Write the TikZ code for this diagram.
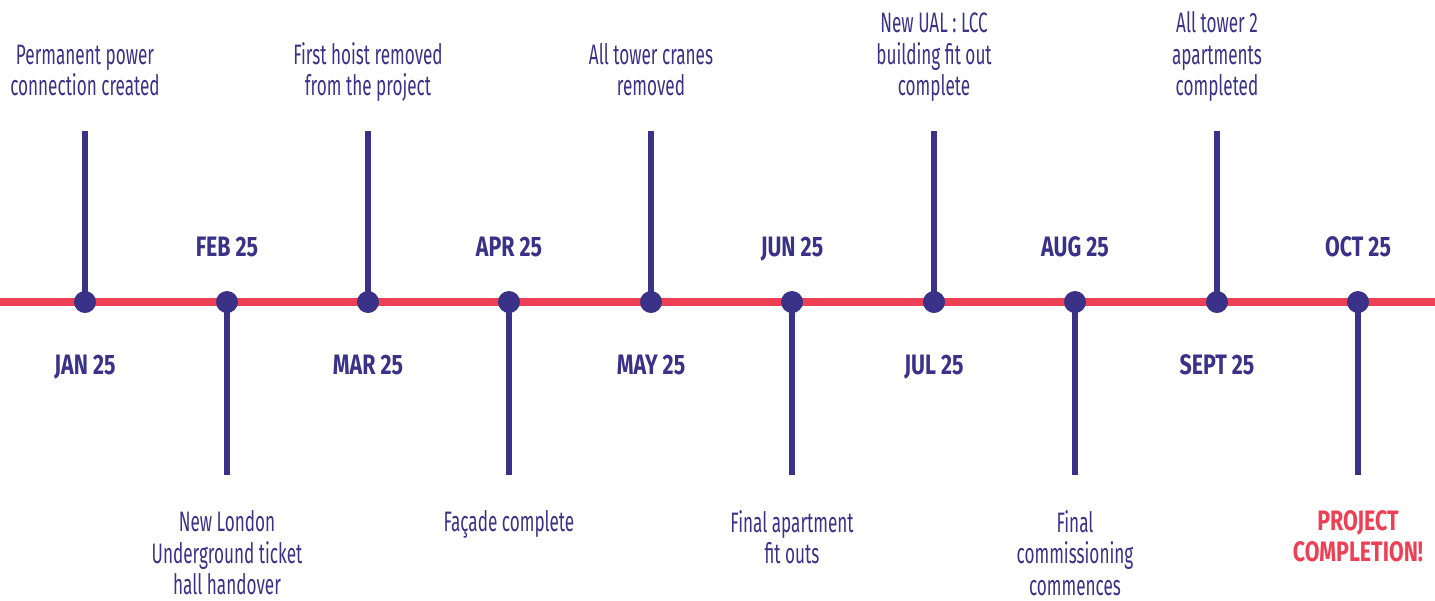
\documentclass[tikz,border=0pt]{standalone}
\usepackage{fontspec}
\setmainfont{Fira Sans}[FakeStretch=0.61, BoldFeatures={FakeStretch=0.76}]
\usetikzlibrary{positioning}
\definecolor{tlnavy}{HTML}{3A3189}
\definecolor{tlred}{HTML}{EE4055}

\begin{document}
\begin{tikzpicture}[x=0.02cm, y=-0.02cm,
	evdot/.style={circle, fill=tlnavy, inner sep=0pt, minimum size=0.44cm},
	stem/.style={draw=tlnavy, line width=3.4pt},
	track/.style={draw=tlred, line width=4.5pt},
	evtext/.style={align=center, text=tlnavy, inner sep=0pt, text depth=0pt, font=\fontsize{16}{18}\selectfont},
	endtext/.style={text=tlred, font=\bfseries\fontsize{16}{18}\selectfont},
	datetext/.style={text=tlnavy, inner sep=0pt, anchor=base, font=\bfseries\fontsize{16}{18}\selectfont}]
	\useasboundingbox (0, 0) rectangle (1435, 600);
	\coordinate (L) at (0, 302);
	\coordinate (R) at (1435, 302);
	\draw[track] (L) -- (R);
	% events above the line
	\foreach \i/\x/\dt/\txt in {1/85/JAN 25/{Permanent power\\connection created},
		3/368/MAR 25/{First hoist removed\\from the project},
		5/651/MAY 25/{All tower cranes\\removed},
		7/934/JUL 25/{New UAL : LCC\\building fit out\\complete},
		9/1217/SEPT 25/{All tower 2\\apartments\\completed}}{
		\coordinate (c\i) at (\x, 302);
		\coordinate (s\i) at (\x, 131);
		\draw[stem] (c\i) -- (s\i);
		\node[evdot] (d\i) at (c\i) {};
		\node[evtext, anchor=south] (t\i) at (\x, 96) {\txt};
		\node[datetext] (m\i) at (\x, 374) {\dt};
	}
	% events below the line
	\foreach \i/\x/\dt/\st/\txt in {2/227/FEB 25/evtext/{New London\\Underground ticket\\hall handover},
		4/509/APR 25/evtext/{Façade complete},
		6/792/JUN 25/evtext/{Final apartment\\fit outs},
		8/1075/AUG 25/evtext/{Final\\commissioning\\commences},
		10/1358/OCT 25/endtext/{PROJECT\\COMPLETION!}}{
		\coordinate (c\i) at (\x, 302);
		\coordinate (s\i) at (\x, 475);
		\draw[stem] (c\i) -- (s\i);
		\node[evdot] (d\i) at (c\i) {};
		\node[evtext, \st, anchor=north] (t\i) at (\x, 510) {\txt};
		\node[datetext] (m\i) at (\x, 256) {\dt};
	}
\end{tikzpicture}
\end{document}
